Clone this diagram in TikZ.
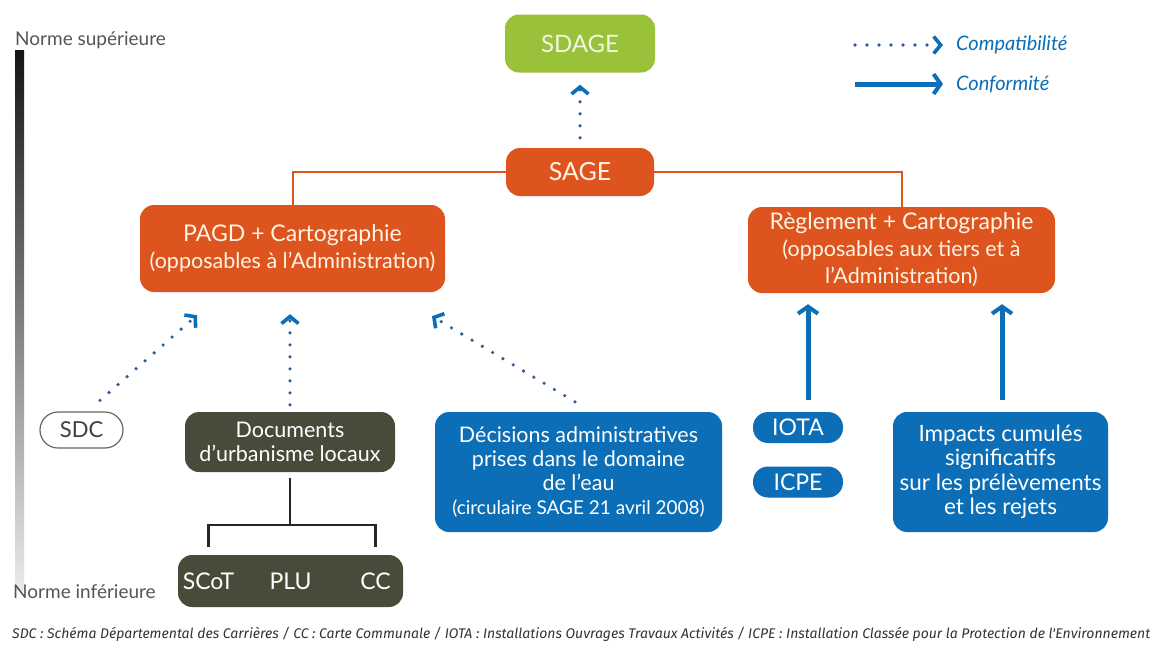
\documentclass[tikz,border=0pt]{standalone}
\usepackage{fontspec}
\setmainfont{Lato}
\newfontfamily\footfont{Fira Sans}
\usetikzlibrary{arrows.meta}
\definecolor{sageorange}{RGB}{222,84,30}
\definecolor{sdagegreen}{RGB}{153,193,58}
\definecolor{eaublue}{RGB}{12,110,182}
\definecolor{olive}{RGB}{74,74,58}
\definecolor{dotblue}{RGB}{45,95,150}
\definecolor{cream}{RGB}{255,244,228}
\definecolor{normgray}{RGB}{85,85,85}
\tikzset{
  box/.style={rounded corners=14pt, inner sep=0pt, align=center, text=cream},
  orangebox/.style={box, fill=sageorange},
  bluebox/.style={box, fill=eaublue, text=white},
  pillbox/.style={box, fill=eaublue, text=white, rounded corners=15pt},
  olivebox/.style={box, fill=olive, text=white},
  mainfont/.style={font=\fontsize{21.5}{24}\selectfont},
  orangefont/.style={font=\fontsize{23}{27}\selectfont},
  orangeline/.style={draw=sageorange, line width=2pt},
  treeline/.style={draw=black!85, line width=2.5pt},
  compat/.style={draw=dotblue, line width=3.6pt, line cap=round, dash pattern=on 0pt off 12pt,
     -{Straight Barb[length=7pt,width=17pt,line width=3.6pt,color=eaublue]}},
  conf/.style={draw=eaublue, line width=5pt,
     -{Straight Barb[length=7pt,width=20pt,line width=4pt]}},
  normtext/.style={text=normgray, font=\fontsize{19}{21}\selectfont, anchor=west, inner sep=0pt},
  legtext/.style={text=eaublue, font=\itshape\fontsize{20}{22}\selectfont, anchor=west, inner sep=0pt}
}
\begin{document}
\begin{tikzpicture}[x=1pt,y=-1pt]
\useasboundingbox[fill=white] (0,0) rectangle (1158,654);

% gradient bar
\shade[top color=black!92, bottom color=black!8] (15,50) rectangle (24,590);
\node[normtext] (sup) at (15,40) {Norme supérieure};
\node[normtext] (inf) at (13,592) {Norme inférieure};

% top boxes
\node[box, fill=sdagegreen, minimum width=150pt, minimum height=58pt, text={rgb,255:red,240;green,246;blue,224}, font=\fontsize{24}{26}\selectfont] (sdage) at (580,43.5) {SDAGE};
\node[orangebox, minimum width=148pt, minimum height=48pt, font=\fontsize{25}{26}\selectfont] (sage) at (580,172) {SAGE};
\node[orangebox, minimum width=305pt, minimum height=87pt, orangefont] (pagd) at (292.5,248.5)
  {PAGD + Cartographie\\{\fontsize{21.5}{27}\selectfont (opposables à l'Administration)}};
\node[orangebox, minimum width=307pt, minimum height=86pt, orangefont] (regl) at (901.5,250)
  {Règlement + Cartographie\\{\fontsize{21.5}{29}\selectfont (opposables aux tiers et à}\\{\fontsize{21.5}{26}\selectfont l'Administration)}};

\draw[orangeline] (sage.west) -| (pagd.north);
\draw[orangeline] (sage.east) -| (regl.north);
\draw[compat] ([yshift=10pt]sage.north) -- ([yshift=-12pt]sdage.south);

% bottom left
\node[box, draw=black!60, fill=white, line width=1.2pt, text=black!75, rounded corners=18pt,
  minimum width=83pt, minimum height=36pt, font=\fontsize{22}{24}\selectfont] (sdc) at (81.5,430) {SDC};
\node[olivebox, minimum width=210pt, minimum height=60pt, mainfont] (docs) at (290,442)
  {Documents\\d'urbanisme locaux};
\node[olivebox, minimum width=225pt, minimum height=52pt] (docbar) at (290.5,581) {};
\node[text=white, font=\fontsize{23}{24}\selectfont] (scot) at ([xshift=-82pt]docbar.center) {SCoT};
\node[text=white, font=\fontsize{23}{24}\selectfont] (plu) at (docbar.center) {PLU};
\node[text=white, font=\fontsize{23}{24}\selectfont] (cc) at ([xshift=85pt]docbar.center) {CC};

\draw[treeline] ([yshift=-6pt]docs.south) -- ([yshift=-53pt]docs.south);
\draw[treeline] ([xshift=-82pt,yshift=8pt]docbar.north) -- ++(0,-22) -- ++(167,0) -- ++(0,22);

% decisions
\node[bluebox, minimum width=287pt, minimum height=120pt, mainfont] (deci) at (578.5,472)
  {Décisions administratives\\prises dans le domaine\\de l'eau\\{\fontsize{19}{25}\selectfont (circulaire SAGE 21 avril 2008)}};

% right bottom
\node[pillbox, minimum width=90pt, minimum height=31pt, font=\fontsize{23}{24}\selectfont] (iota) at (798,427.5) {IOTA};
\node[pillbox, minimum width=90pt, minimum height=31pt, font=\fontsize{23}{24}\selectfont] (icpe) at (798,482) {ICPE};
\node[bluebox, minimum width=215pt, minimum height=120pt, font=\fontsize{22.5}{24.5}\selectfont] (imp) at (1000.5,472)
  {Impacts cumulés\\significatifs\\sur les prélèvements\\et les rejets};

% arrows
\draw[compat] ([xshift=18.5pt,yshift=11pt]sdc.north) -- ([xshift=-95.5pt,yshift=-23pt]pagd.south);
\draw[compat] ([yshift=7pt]docs.north) -- ([xshift=-2.5pt,yshift=-22pt]pagd.south);
\draw[compat] ([xshift=-3.5pt,yshift=10pt]deci.north) -- ([xshift=139.5pt,yshift=-24pt]pagd.south);
\draw[conf] ([xshift=10pt,yshift=12pt]iota.north) -- ([xshift=-93.5pt,yshift=-11pt]regl.south);
\draw[conf] ([xshift=1.5pt,yshift=12pt]imp.north) -- ([xshift=100.5pt,yshift=-11pt]regl.south);

% legend
\coordinate (l1a) at (855,45);
\coordinate (l1b) at (943,45);
\coordinate (l2a) at (855,84);
\coordinate (l2b) at (943,84);
\draw[compat] (l1a) -- (l1b);
\draw[conf] (l2a) -- (l2b);
\node[legtext] (lc1) at (956,45) {Compatibilité};
\node[legtext] (lc2) at (956,84) {Conformité};

% footer
\node[inner sep=0pt, anchor=west, text=black!80] (foot) at (12,634)
  {\resizebox{1138pt}{\height}{\footfont\itshape\fontsize{14}{16}\selectfont SDC : Schéma Départemental des Carrières / CC : Carte Communale / IOTA : Installations Ouvrages Travaux Activités / ICPE : Installation Classée pour la Protection de l'Environnement}};
\end{tikzpicture}
\end{document}
